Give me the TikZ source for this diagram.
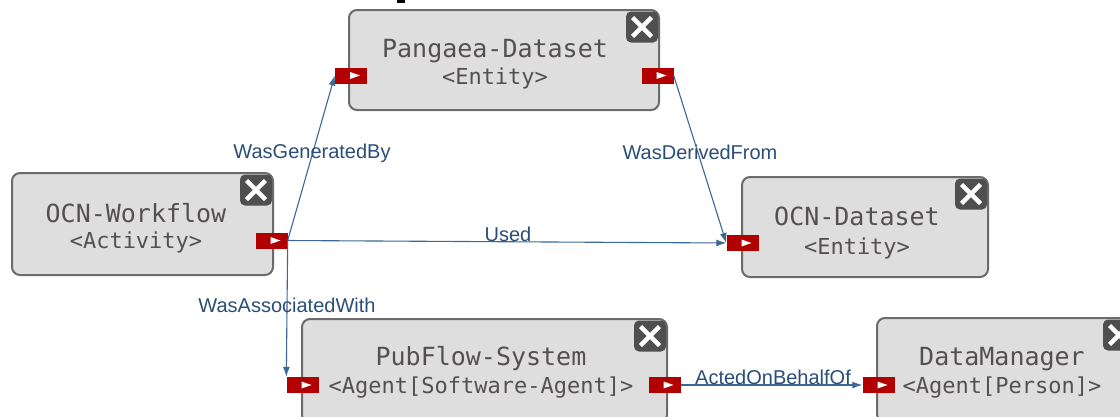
\documentclass[tikz,border=0pt]{standalone}
\usepackage{fontspec}
\setmainfont{Liberation Sans}
\newfontfamily\boxfont{DejaVu Sans Mono}
\usetikzlibrary{arrows.meta}
\definecolor{boxfill}{HTML}{DEDEDE}
\definecolor{boxline}{HTML}{6B6B6B}
\definecolor{xfill}{HTML}{4F4F4F}
\definecolor{portred}{HTML}{B20000}
\definecolor{edgeblue}{HTML}{3B6894}
\definecolor{labelblue}{HTML}{2A4E78}
\definecolor{boxtext}{HTML}{555050}
\begin{document}
\begin{tikzpicture}[x=1pt,y=-1pt,
  entbox/.style={draw=boxline, fill=boxfill, line width=2pt, rounded corners=8pt, inner sep=0pt},
  closebtn/.style={fill=xfill, rounded corners=5pt, minimum width=32pt, minimum height=31pt, inner sep=0pt,
    path picture={
      \draw[white, line width=4.5pt] ([shift={(-9.5pt,-9.5pt)}]path picture bounding box.center) -- ([shift={(9.5pt,9.5pt)}]path picture bounding box.center);
      \draw[white, line width=4.5pt] ([shift={(-9.5pt,9.5pt)}]path picture bounding box.center) -- ([shift={(9.5pt,-9.5pt)}]path picture bounding box.center);}},
  port/.style={fill=portred, minimum width=32pt, minimum height=16pt, inner sep=0pt,
    path picture={\fill[white] ([shift={(-1pt,3.5pt)}]path picture bounding box.center) -- ++(10pt,-3.5pt) -- ++(-10pt,-3.5pt) -- cycle;}},
  title/.style={font=\boxfont\fontsize{25}{28}\selectfont, text=boxtext, anchor=base, inner sep=0pt},
  stereo/.style={font=\boxfont\fontsize{22}{26}\selectfont, text=boxtext, anchor=base, inner sep=0pt},
  rel/.style={font=\fontsize{20}{23}\selectfont, text=labelblue, anchor=base, inner sep=0pt},
  conn/.style={draw=edgeblue, line width=1.1pt, -{Latex[length=10pt,width=7pt]}}
]
\useasboundingbox (0,0) rectangle (1120,416);
\clip (0,0) rectangle (1120,416);
\fill[black] (397,0) rectangle (405,3);

% boxes
\node[entbox, minimum width=310pt, minimum height=100pt] (pg) at (504,60) {};
\node[entbox, minimum width=261pt, minimum height=102pt] (wf) at (142.5,224) {};
\node[entbox, minimum width=246pt, minimum height=100pt] (ds) at (865,227) {};
\node[entbox, minimum width=365pt, minimum height=104pt] (pf) at (484.5,371) {};
\node[entbox, minimum width=259pt, minimum height=104pt] (dm) at (1006.5,370) {};

% close buttons
\node[closebtn] (pgx) at ([shift={(-18pt,-18pt)}]pg.north east) {};
\node[closebtn] (wfx) at ([shift={(-18pt,-18pt)}]wf.north east) {};
\node[closebtn] (dsx) at ([shift={(-18pt,-18pt)}]ds.north east) {};
\node[closebtn] (pfx) at ([shift={(-18pt,-18pt)}]pf.north east) {};
\node[closebtn] (dmx) at ([shift={(-18pt,-18pt)}]dm.north east) {};

% texts
\node[title]  (pgt) at (495,57)  {Pangaea-Dataset};
\node[stereo] (pgs) at (495,84)  {<Entity>};
\node[title]  (wft) at (136,222) {OCN-Workflow};
\node[stereo] (wfs) at (136,248) {<Activity>};
\node[title]  (dst) at (857,225) {OCN-Dataset};
\node[stereo] (dss) at (857,254) {<Entity>};
\node[title]  (pft) at (481,365) {PubFlow-System};
\node[stereo] (pfs) at (481,393) {<Agent[Software-Agent]>};
\node[title]  (dmt) at (1002,365) {DataManager};
\node[stereo] (dms) at (1002,393) {<Agent[Person]>};

% ports
\node[port] (pgin)  at (351,75.5) {};
\node[port] (pgout) at (657.5,75.5) {};
\node[port] (wfout) at (271.5,240.5) {};
\node[port] (dsin)  at (742.5,243) {};
\node[port] (pfin)  at (302.5,385) {};
\node[port] (pfout) at (664.5,385) {};
\node[port] (dmin)  at (878.5,385) {};

% connectors
\draw[conn] (wfout.east) -- (pgin.west);
\draw[conn] (pgout.east) -- (dsin.west);
\draw[conn] (wfout.east) -- (dsin.west);
\draw[conn] (wfout.east) -- (pfin.north west);
\draw[conn] (pfout.east) -- (dmin.west);

% labels
\node[rel] (l1) at (312,158) {WasGeneratedBy};
\node[rel] (l2) at (700,159) {WasDerivedFrom};
\node[rel] (l3) at (508,241) {Used};
\node[rel] (l4) at (287,312) {WasAssociatedWith};
\node[rel] (l5) at (773,384) {ActedOnBehalfOf};
\end{tikzpicture}
\end{document}
